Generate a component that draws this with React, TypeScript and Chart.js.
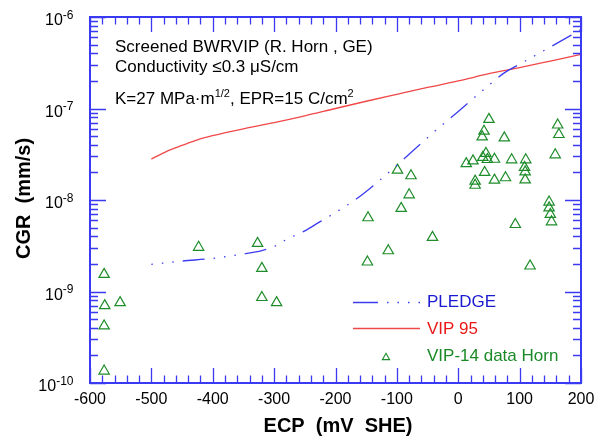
import React, { useEffect, useRef } from 'react';
import { Chart, registerables } from 'chart.js';

Chart.register(...registerables);

// ---- Data ----
const xTickValues = [-600, -500, -400, -300, -200, -100, 0, 100, 200];
const xTickLabels = ['-600', '-500', '-400', '-300', '-200', '-100', '0', '100', '200'];
const yTickExponents = [-10, -9, -8, -7, -6];

const pledgeEcp = [-500, -450, -400, -350, -320, -300, -280, -250, -225, -200, -160, -130, -100, -50, 0, 50, 75, 100, 150, 200];
const pledgeCgr = [1.98e-9, 2.15e-9, 2.3e-9, 2.57e-9, 2.8e-9, 3.1e-9, 3.7e-9, 4.6e-9, 5.8e-9, 7.3e-9, 1.1e-8, 1.6e-8, 2.4e-8, 4.8e-8, 9.3e-8, 1.8e-7, 2.45e-7, 3.05e-7, 4.7e-7, 7.3e-7];

const vip95Ecp = [-500, -475, -450, -425, -400, -350, -300, -250, -200, -150, -100, -50, 0, 50, 100, 150, 200];
const vip95Cgr = [2.8e-8, 3.4e-8, 3.95e-8, 4.55e-8, 5.05e-8, 6.0e-8, 7.0e-8, 8.3e-8, 1.0e-7, 1.2e-7, 1.43e-7, 1.7e-7, 2.0e-7, 2.4e-7, 2.8e-7, 3.3e-7, 3.9e-7];

const hornEcp = [-577, -576, -577, -577, -551, -423, -327, -320, -320, -296, -147, -148, -114, -99, -77, -80, -93, -42, 13, 24, 27.5, 27.5, 43, 40, 45, 47.5, 59, 59, 39, 42, 50, 75, 77, 87, 110, 108, 109, 109, 93, 117, 148, 148, 150, 152, 158, 162, 164];
const hornCgr = [1.54e-9, 7.0e-10, 4.2e-10, 1.35e-10, 7.55e-10, 3.04e-9, 3.36e-9, 1.79e-9, 8.6e-10, 7.55e-10, 6.4e-9, 2.1e-9, 2.79e-9, 2.12e-8, 1.84e-8, 1.14e-8, 8.1e-9, 3.9e-9, 2.5e-8, 2.68e-8, 1.61e-8, 1.45e-8, 2.0e-8, 2.92e-8, 3.23e-8, 2.77e-8, 2.79e-8, 1.65e-8, 4.9e-8, 5.65e-8, 7.6e-8, 4.78e-8, 1.75e-8, 2.75e-8, 2.75e-8, 2.27e-8, 2.03e-8, 1.66e-8, 5.4e-9, 1.9e-9, 9.5e-9, 8.2e-9, 6.97e-9, 5.78e-9, 3.12e-8, 6.6e-8, 5.2e-8];

const seriesNames = ['PLEDGE', 'VIP 95', 'VIP-14 data Horn'];

// ---- Styles ----
const FONT = '"Liberation Sans", Arial, sans-serif';
const FRAME = '#3a3af2';
const BLUE_LINE = '#3c3cf0';
const RED_LINE = '#f04848';
const GREEN = '#1e8c2a';
const PLEDGE_DASH = [1.5, 9, 1.5, 9, 1.5, 9, 22, 9];

type Part = { t: string; size: number; dy: number; bold?: boolean };

function richWidth(ctx: CanvasRenderingContext2D, parts: Part[]) {
  let w = 0;
  for (const p of parts) {
    ctx.font = `${p.bold ? 'bold ' : ''}${p.size}px ${FONT}`;
    w += ctx.measureText(p.t).width;
  }
  return w;
}

function drawRich(ctx: CanvasRenderingContext2D, parts: Part[], x: number, y: number) {
  let cx = x;
  for (const p of parts) {
    ctx.font = `${p.bold ? 'bold ' : ''}${p.size}px ${FONT}`;
    ctx.fillText(p.t, cx, y + p.dy);
    cx += ctx.measureText(p.t).width;
  }
}

const decorPlugin = {
  id: 'decor',
  afterDatasetsDraw(chart: any) {
    const ctx: CanvasRenderingContext2D = chart.ctx;
    const ca = chart.chartArea;
    const xs = chart.scales.x;
    const ys = chart.scales.y;
    ctx.save();

    // ticks
    ctx.strokeStyle = FRAME;
    ctx.lineWidth = 1.3;
    ctx.beginPath();
    const xMin = xTickValues[0];
    const xMax = xTickValues[xTickValues.length - 1];
    for (let v = xMin; v <= xMax; v += 20) {
      const px = Math.round(xs.getPixelForValue(v)) + 0.5;
      const len = v % 100 === 0 ? 15 : 7.5;
      ctx.moveTo(px, ca.bottom);
      ctx.lineTo(px, ca.bottom - len);
      ctx.moveTo(px, ca.top);
      ctx.lineTo(px, ca.top + len);
    }
    for (let i = 0; i < yTickExponents.length; i++) {
      const e = yTickExponents[i];
      const maxM = i === yTickExponents.length - 1 ? 1 : 9;
      for (let m = 1; m <= maxM; m++) {
        const py = Math.round(ys.getPixelForValue(m * Math.pow(10, e))) + 0.5;
        const len = m === 1 ? 16 : 8;
        ctx.moveTo(ca.left, py);
        ctx.lineTo(ca.left + len, py);
        ctx.moveTo(ca.right, py);
        ctx.lineTo(ca.right - len, py);
      }
    }
    ctx.stroke();

    // frame
    ctx.lineWidth = 2;
    ctx.strokeRect(ca.left, ca.top, ca.right - ca.left, ca.bottom - ca.top);

    // x tick labels
    ctx.fillStyle = '#000';
    ctx.font = `16px ${FONT}`;
    ctx.textAlign = 'center';
    ctx.textBaseline = 'alphabetic';
    xTickValues.forEach((v, i) => {
      ctx.fillText(xTickLabels[i], xs.getPixelForValue(v), ca.bottom + 20.5);
    });

    // y tick labels
    ctx.textAlign = 'left';
    yTickExponents.forEach((e) => {
      const py = ys.getPixelForValue(Math.pow(10, e));
      const parts: Part[] = [
        { t: '10', size: 16, dy: 8 },
        { t: String(e), size: 12, dy: 1.5 },
      ];
      const w = richWidth(ctx, parts);
      drawRich(ctx, parts, 73.5 - w, py);
    });

    // axis titles
    ctx.font = `bold 20px ${FONT}`;
    ctx.textAlign = 'center';
    ctx.fillText('ECP  (mV  SHE)', 338, 432);
    ctx.save();
    ctx.translate(29.5, 198.5);
    ctx.rotate(-Math.PI / 2);
    ctx.fillText('CGR  (mm/s)', 0, 0);
    ctx.restore();

    // annotations
    ctx.textAlign = 'left';
    drawRich(ctx, [{ t: 'Screened BWRVIP (R. Horn , GE)', size: 17, dy: 0 }], 115, 51.5);
    drawRich(ctx, [{ t: 'Conductivity \u22640.3 \u03bcS/cm', size: 17, dy: 0 }], 115, 71.5);
    drawRich(
      ctx,
      [
        { t: 'K=27 MPa\u00b7m', size: 17, dy: 0 },
        { t: '1/2', size: 11, dy: -7 },
        { t: ', EPR=15 C/cm', size: 17, dy: 0 },
        { t: '2', size: 11, dy: -7 },
      ],
      115,
      104
    );

    // legend
    const lx0 = 353;
    const lx1 = 420;
    const tx = 427;
    ctx.lineWidth = 1.3;
    ctx.strokeStyle = BLUE_LINE;
    ctx.setLineDash([25, 9, 1.5, 9, 1.5, 9, 1.5, 9]);
    ctx.beginPath();
    ctx.moveTo(lx0, 302.5);
    ctx.lineTo(lx1, 302.5);
    ctx.stroke();
    ctx.setLineDash([]);
    ctx.strokeStyle = RED_LINE;
    ctx.beginPath();
    ctx.moveTo(lx0, 328.5);
    ctx.lineTo(lx1, 328.5);
    ctx.stroke();
    // triangle marker
    ctx.strokeStyle = GREEN;
    ctx.lineWidth = 1.1;
    const r = 4.2;
    const cx = 386;
    const cy = 357.5;
    ctx.beginPath();
    ctx.moveTo(cx, cy - r);
    ctx.lineTo(cx + r * 0.866, cy + r / 2);
    ctx.lineTo(cx - r * 0.866, cy + r / 2);
    ctx.closePath();
    ctx.stroke();

    ctx.font = `17px ${FONT}`;
    ctx.fillStyle = '#1a1ad0';
    ctx.fillText(seriesNames[0], tx, 307);
    ctx.fillStyle = '#e81818';
    ctx.fillText(seriesNames[1], tx, 334);
    ctx.fillStyle = '#1a8a26';
    ctx.fillText(seriesNames[2], tx, 361);

    ctx.restore();
  },
};

export default function App() {
  const ref = useRef<HTMLCanvasElement | null>(null);

  useEffect(() => {
    document.body.style.margin = '0';
    const canvas = ref.current;
    if (!canvas) return;
    const chart = new Chart(canvas, {
      type: 'scatter',
      data: {
        datasets: [
          {
            label: seriesNames[0],
            data: pledgeEcp.map((x, i) => ({ x, y: pledgeCgr[i] })),
            showLine: true,
            borderColor: BLUE_LINE,
            borderWidth: 1.3,
            borderDash: PLEDGE_DASH,
            pointRadius: 0,
            cubicInterpolationMode: 'monotone',
            fill: false,
          },
          {
            label: seriesNames[1],
            data: vip95Ecp.map((x, i) => ({ x, y: vip95Cgr[i] })),
            showLine: true,
            borderColor: RED_LINE,
            borderWidth: 1.3,
            pointRadius: 0,
            cubicInterpolationMode: 'monotone',
            fill: false,
          },
          {
            label: seriesNames[2],
            data: hornEcp.map((x, i) => ({ x, y: hornCgr[i] })),
            showLine: false,
            pointStyle: 'triangle',
            pointRadius: 6,
            borderColor: GREEN,
            backgroundColor: 'rgba(0,0,0,0)',
            borderWidth: 1.2,
          },
        ],
      },
      options: {
        responsive: false,
        animation: false,
        devicePixelRatio: 1,
        layout: { padding: { left: 90, right: 24, top: 17, bottom: 62 } },
        scales: {
          x: { type: 'linear', min: -600, max: 200, display: false },
          y: { type: 'logarithmic', min: 1e-10, max: 1e-6, display: false },
        },
        plugins: {
          legend: { display: false },
          tooltip: { enabled: false },
        },
      },
      plugins: [decorPlugin],
    } as any);
    return () => chart.destroy();
  }, []);

  return (
    <div style={{ width: 605, height: 445, background: '#fff' }}>
      <canvas ref={ref} width={605} height={445} style={{ display: 'block' }} />
    </div>
  );
}
